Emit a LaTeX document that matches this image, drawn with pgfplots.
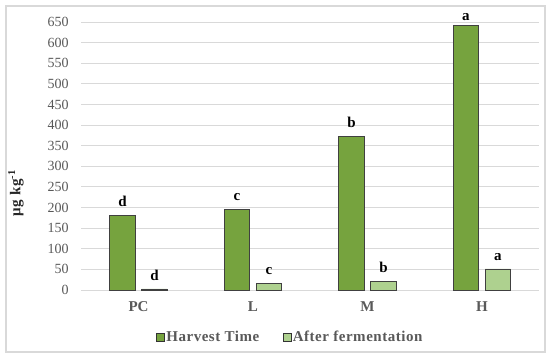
\documentclass[border=0pt]{standalone}
\usepackage{pgfplots}
\pgfplotsset{compat=1.18}
\usepackage{fontspec}
\setmainfont{Liberation Serif}
\newfontfamily\spaced[LetterSpace=3.5]{Liberation Serif}
\definecolor{hv}{RGB}{118,163,62}
\definecolor{af}{RGB}{174,209,143}
\definecolor{tx}{RGB}{89,89,89}
\definecolor{gr}{RGB}{217,217,217}
\begin{document}
\begin{tikzpicture}[x=1pt,y=1pt]
\useasboundingbox (0,0) rectangle (550,358);
\draw[gr, line width=1.2pt] (6,6) rectangle (545,352);
\begin{axis}[
  at={(81.25pt,68pt)}, anchor=south west,
  scale only axis, width=458pt, height=268pt,
  xmin=-0.5, xmax=3.5, ymin=0, ymax=650,
  ybar=6.5pt, bar width=25.5pt,
  axis line style={draw=none},
  ytick={0,50,...,650}, ymajorgrids, grid style={gr, line width=0.9pt},
  xtick={0,1,2,3}, xticklabels={PC,L,M,H},
  major tick length=0pt,
  tick label style={color=tx},
  /pgf/number format/assume math mode=true,
  yticklabel style={font=\fontsize{14}{14}\selectfont, anchor=east, xshift=-9pt},
  xticklabel style={font=\fontsize{15}{15}\selectfont\bfseries, yshift=-8pt},
  clip=false,
  point meta=explicit symbolic,
  nodes near coords,
  every node near coord/.append style={font=\fontsize{15}{15}\selectfont\bfseries, color=black, yshift=5pt},
  legend columns=2,
  legend style={draw=none, at={(0.456,-0.175)}, anchor=center,
    font=\fontsize{15}{15}\selectfont\bfseries\spaced, text=tx,
    nodes={inner xsep=1.5pt},
    /tikz/every even column/.append style={column sep=22pt}},
  legend image code/.code={\draw[#1, draw=black!80, line width=0.6pt] (0pt,-4pt) rectangle (8pt,4pt);},
]
\addplot[fill=hv, draw=black!75, line width=0.8pt] coordinates {(0,180) [d] (1,195) [c] (2,373) [b] (3,642) []};
\addplot[fill=af, draw=black!75, line width=0.8pt] coordinates {(0,2.5) [d] (1,15) [c] (2,21) [b] (3,51) [a]};
\legend{Harvest Time, After fermentation}
\node[font=\fontsize{15}{15}\selectfont\bfseries, anchor=south, xshift=-16pt, yshift=1.5pt] at (axis cs:3,642) {a};
\end{axis}
\node[rotate=90, font=\fontsize{15}{15}\selectfont\bfseries\spaced, text=black!85] at (16,165) {μg kg\textsuperscript{-1}};
\end{tikzpicture}
\end{document}
